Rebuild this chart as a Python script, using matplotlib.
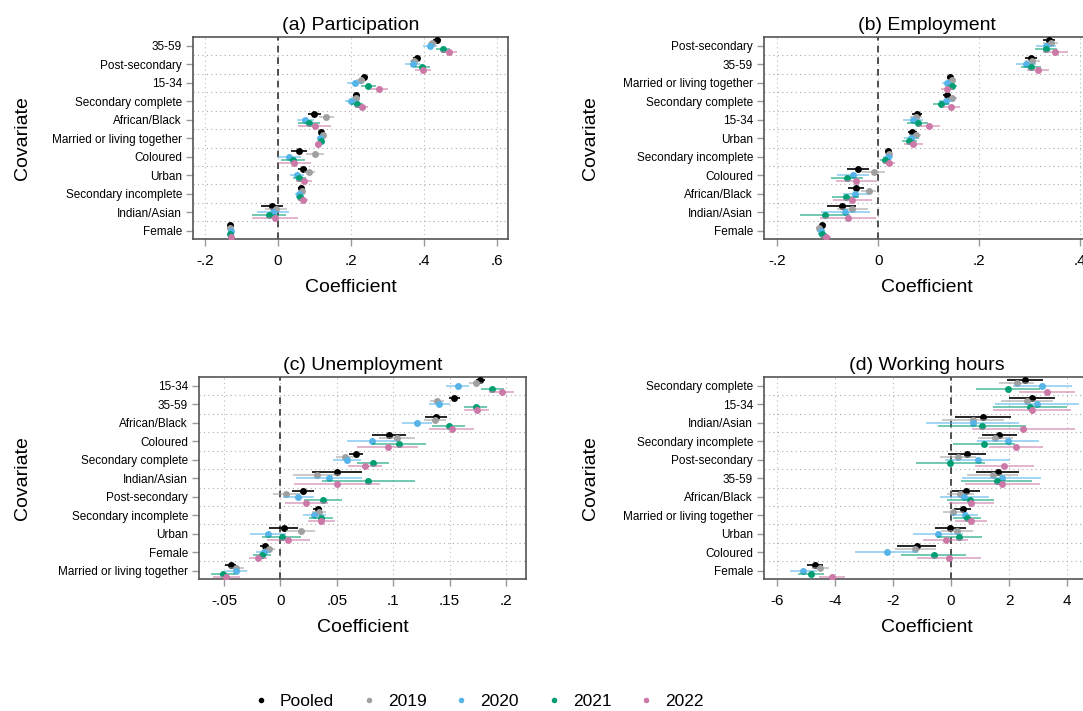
import numpy as np
import matplotlib
matplotlib.use("Agg")
import matplotlib.pyplot as plt
from matplotlib.lines import Line2D

plt.rcParams['font.family'] = ['Liberation Sans', 'DejaVu Sans']

# series: Pooled, 2019, 2020, 2021, 2022
series = ['Pooled', '2019', '2020', '2021', '2022']
colors = ['#000000', '#a0a0a0', '#56b4e9', '#009e73', '#cc79a7']
offsets = [-0.33, -0.165, 0.0, 0.165, 0.33]

# (a) Participation
cats_a = ['35-59', 'Post-secondary', '15-34', 'Secondary complete', 'African/Black',
          'Married or living together', 'Coloured', 'Urban', 'Secondary incomplete',
          'Indian/Asian', 'Female']
coef_a = [
    [0.435, 0.380, 0.236, 0.214, 0.099, 0.117, 0.057, 0.067, 0.063, -0.016, -0.131],
    [0.423, 0.373, 0.226, 0.213, 0.132, 0.122, 0.102, 0.086, 0.066, -0.005, -0.131],
    [0.416, 0.369, 0.210, 0.201, 0.075, 0.115, 0.031, 0.052, 0.058, -0.014, -0.130],
    [0.452, 0.395, 0.247, 0.216, 0.086, 0.119, 0.041, 0.058, 0.060, -0.024, -0.131],
    [0.469, 0.396, 0.277, 0.229, 0.100, 0.110, 0.045, 0.072, 0.069, -0.008, -0.129],
]
ci_a = [
    [0.011, 0.010, 0.010, 0.008, 0.018, 0.006, 0.022, 0.012, 0.008, 0.030, 0.004],
    [0.012, 0.012, 0.012, 0.010, 0.020, 0.007, 0.025, 0.014, 0.009, 0.030, 0.004],
    [0.020, 0.020, 0.020, 0.017, 0.024, 0.008, 0.032, 0.018, 0.012, 0.043, 0.006],
    [0.020, 0.020, 0.020, 0.017, 0.030, 0.008, 0.032, 0.018, 0.012, 0.047, 0.006],
    [0.022, 0.022, 0.024, 0.018, 0.044, 0.010, 0.045, 0.022, 0.013, 0.063, 0.006],
]

# (b) Employment
cats_b = ['Post-secondary', '35-59', 'Married or living together', 'Secondary complete',
          '15-34', 'Urban', 'Secondary incomplete', 'Coloured', 'African/Black',
          'Indian/Asian', 'Female']
coef_b = [
    [0.338, 0.303, 0.142, 0.136, 0.077, 0.068, 0.019, -0.040, -0.044, -0.072, -0.111],
    [0.342, 0.305, 0.146, 0.146, 0.075, 0.074, 0.021, -0.009, -0.019, -0.051, -0.117],
    [0.333, 0.293, 0.136, 0.135, 0.069, 0.066, 0.020, -0.050, -0.045, -0.065, -0.114],
    [0.332, 0.302, 0.147, 0.124, 0.078, 0.062, 0.014, -0.061, -0.064, -0.105, -0.111],
    [0.351, 0.316, 0.137, 0.145, 0.101, 0.070, 0.022, -0.043, -0.051, -0.060, -0.104],
]
ci_b = [
    [0.012, 0.012, 0.006, 0.008, 0.010, 0.008, 0.006, 0.021, 0.016, 0.029, 0.005],
    [0.015, 0.015, 0.008, 0.010, 0.012, 0.010, 0.007, 0.022, 0.015, 0.030, 0.006],
    [0.020, 0.020, 0.010, 0.014, 0.020, 0.015, 0.010, 0.031, 0.024, 0.048, 0.008],
    [0.022, 0.020, 0.010, 0.016, 0.020, 0.015, 0.010, 0.032, 0.027, 0.049, 0.009],
    [0.024, 0.022, 0.012, 0.017, 0.022, 0.018, 0.012, 0.041, 0.039, 0.055, 0.010],
]

# (c) Unemployment
cats_c = ['15-34', '35-59', 'African/Black', 'Coloured', 'Secondary complete',
          'Indian/Asian', 'Post-secondary', 'Secondary incomplete', 'Urban', 'Female',
          'Married or living together']
coef_c = [
    [0.177, 0.154, 0.138, 0.096, 0.067, 0.050, 0.020, 0.033, 0.003, -0.014, -0.044],
    [0.173, 0.139, 0.137, 0.103, 0.057, 0.032, 0.005, 0.034, 0.018, -0.010, -0.039],
    [0.157, 0.141, 0.121, 0.081, 0.059, 0.043, 0.016, 0.030, -0.011, -0.015, -0.039],
    [0.188, 0.173, 0.149, 0.105, 0.082, 0.078, 0.038, 0.036, 0.001, -0.016, -0.051],
    [0.196, 0.174, 0.152, 0.095, 0.075, 0.050, 0.023, 0.036, 0.007, -0.020, -0.048],
]
ci_c = [
    [0.004, 0.005, 0.010, 0.015, 0.006, 0.022, 0.010, 0.004, 0.013, 0.004, 0.005],
    [0.006, 0.006, 0.010, 0.016, 0.008, 0.021, 0.012, 0.006, 0.013, 0.005, 0.007],
    [0.010, 0.009, 0.013, 0.022, 0.012, 0.029, 0.014, 0.010, 0.016, 0.007, 0.009],
    [0.010, 0.010, 0.015, 0.024, 0.014, 0.041, 0.017, 0.011, 0.017, 0.008, 0.011],
    [0.011, 0.011, 0.020, 0.027, 0.015, 0.038, 0.019, 0.012, 0.019, 0.008, 0.012],
]

# (d) Working hours
cats_d = ['Secondary complete', '15-34', 'Indian/Asian', 'Secondary incomplete',
          'Post-secondary', '35-59', 'African/Black', 'Married or living together',
          'Urban', 'Coloured', 'Female']
coef_d = [
    [2.56, 2.79, 1.10, 1.66, 0.56, 1.61, 0.52, 0.40, -0.02, -1.18, -4.70],
    [2.26, 2.63, 0.76, 1.53, 0.23, 1.43, 0.32, 0.08, 0.20, -1.23, -4.51],
    [3.15, 2.97, 0.74, 1.97, 0.92, 1.74, 0.46, 0.47, -0.44, -2.22, -5.09],
    [1.97, 2.71, 1.07, 1.14, -0.03, 1.57, 0.67, 0.55, 0.29, -0.60, -4.83],
    [3.31, 2.80, 2.49, 2.25, 1.84, 1.77, 0.70, 0.68, -0.18, -0.07, -4.10],
]
ci_d = [
    [0.62, 0.78, 0.96, 0.60, 0.66, 0.74, 0.49, 0.29, 0.55, 0.67, 0.27],
    [0.60, 0.90, 1.08, 0.60, 0.62, 0.89, 0.47, 0.35, 0.56, 0.70, 0.29],
    [1.03, 1.44, 1.59, 1.06, 1.12, 1.36, 0.85, 0.47, 0.86, 1.09, 0.47],
    [1.10, 1.28, 1.52, 1.06, 1.19, 1.23, 0.80, 0.48, 0.78, 1.12, 0.45],
    [0.96, 1.34, 1.78, 0.93, 1.02, 1.28, 0.78, 0.56, 0.78, 1.10, 0.44],
]

ticks_a = [-0.2, 0, 0.2, 0.4, 0.6]
ticklabels_a = ['-.2', '0', '.2', '.4', '.6']
ticks_b = [-0.2, 0, 0.2, 0.4]
ticklabels_b = ['-.2', '0', '.2', '.4']
ticks_c = [-0.05, 0, 0.05, 0.1, 0.15, 0.2]
ticklabels_c = ['-.05', '0', '.05', '.1', '.15', '.2']
ticks_d = [-6, -4, -2, 0, 2, 4]
ticklabels_d = ['-6', '-4', '-2', '0', '2', '4']

W, H = 1083, 711
fig = plt.figure(figsize=(W / 100, H / 100), dpi=100)


def px_axes(left, right, top, bottom):
    return fig.add_axes([left / W, 1 - bottom / H, (right - left) / W, (bottom - top) / H])


def draw_panel(ax, title, cats, coef, ci, ticks, ticklabels, xlim, title_x=0.5):
    n = len(cats)
    y = np.arange(n)
    for k in range(5):
        yy = y + offsets[k]
        c = np.array(coef[k])
        e = np.array(ci[k])
        alpha = 1.0 if k == 0 else 0.65
        ax.hlines(yy, c - e, c + e, color=colors[k], lw=1.2, alpha=alpha, zorder=3 + k)
        ax.plot(c, yy, 'o', color=colors[k], ms=5, mec='none', zorder=4 + k)
    ax.axvline(0, color='#333333', ls=(0, (4, 3)), lw=1.2, zorder=2)
    for t in ticks:
        ax.axvline(t, color='#bbbbbb', ls=(0, (1, 3)), lw=0.8, zorder=1)
    for i in range(n - 1):
        ax.axhline(i + 0.5, color='#aaaaaa', ls=(0, (1, 3)), lw=0.8, zorder=1)
    ax.set_ylim(n - 0.55, -0.48)
    ax.set_xlim(*xlim)
    ax.set_yticks(y)
    ax.set_yticklabels(cats, fontsize=8.5)
    ax.set_xticks(ticks)
    ax.set_xticklabels(ticklabels, fontsize=11)
    ax.tick_params(axis='both', color='#999999', length=5, width=1)
    ax.tick_params(axis='y', pad=3)
    ax.tick_params(axis='x', pad=5.5)
    for s in ax.spines.values():
        s.set_color('#555555')
        s.set_linewidth(1.2)
    ax.set_title(title, fontsize=14, pad=5, x=title_x)
    ax.set_xlabel('Coefficient', fontsize=14, labelpad=9)
    ax.xaxis.set_label_coords(title_x, -0.2)


ax_a = px_axes(193, 508, 37, 239)
draw_panel(ax_a, '(a) Participation', cats_a, coef_a, ci_a, ticks_a, ticklabels_a, (-0.233, 0.630))
# right-hand panels run past the picture edge, as in the reference
ax_b = px_axes(764, 1100, 37, 239)
draw_panel(ax_b, '(b) Employment', cats_b, coef_b, ci_b, ticks_b, ticklabels_b,
           (-0.226, -0.226 + 336 / 505), title_x=163 / 336)
ax_c = px_axes(199, 526, 377, 579)
draw_panel(ax_c, '(c) Unemployment', cats_c, coef_c, ci_c, ticks_c, ticklabels_c, (-0.0722, 0.2177))
ax_d = px_axes(764, 1100, 377, 579)
draw_panel(ax_d, '(d) Working hours', cats_d, coef_d, ci_d, ticks_d, ticklabels_d,
           (-6.45, -6.45 + 336 / 29), title_x=163 / 336)

# y titles
for xp, yp in [(22, 138), (590, 138), (22, 478), (590, 478)]:
    fig.text(xp / W, 1 - yp / H, 'Covariate', rotation=90, fontsize=14, ha='center', va='center')

handles = [Line2D([], [], ls='none', marker='o', ms=4, color=c, mec='none') for c in colors]
fig.legend(handles, series, loc='center', bbox_to_anchor=(478 / W, 1 - 701 / H), ncol=5,
           frameon=False, fontsize=12.5, handletextpad=0.6, columnspacing=1.5,
           handlelength=1.0)

fig.savefig('out.png', dpi=100)
